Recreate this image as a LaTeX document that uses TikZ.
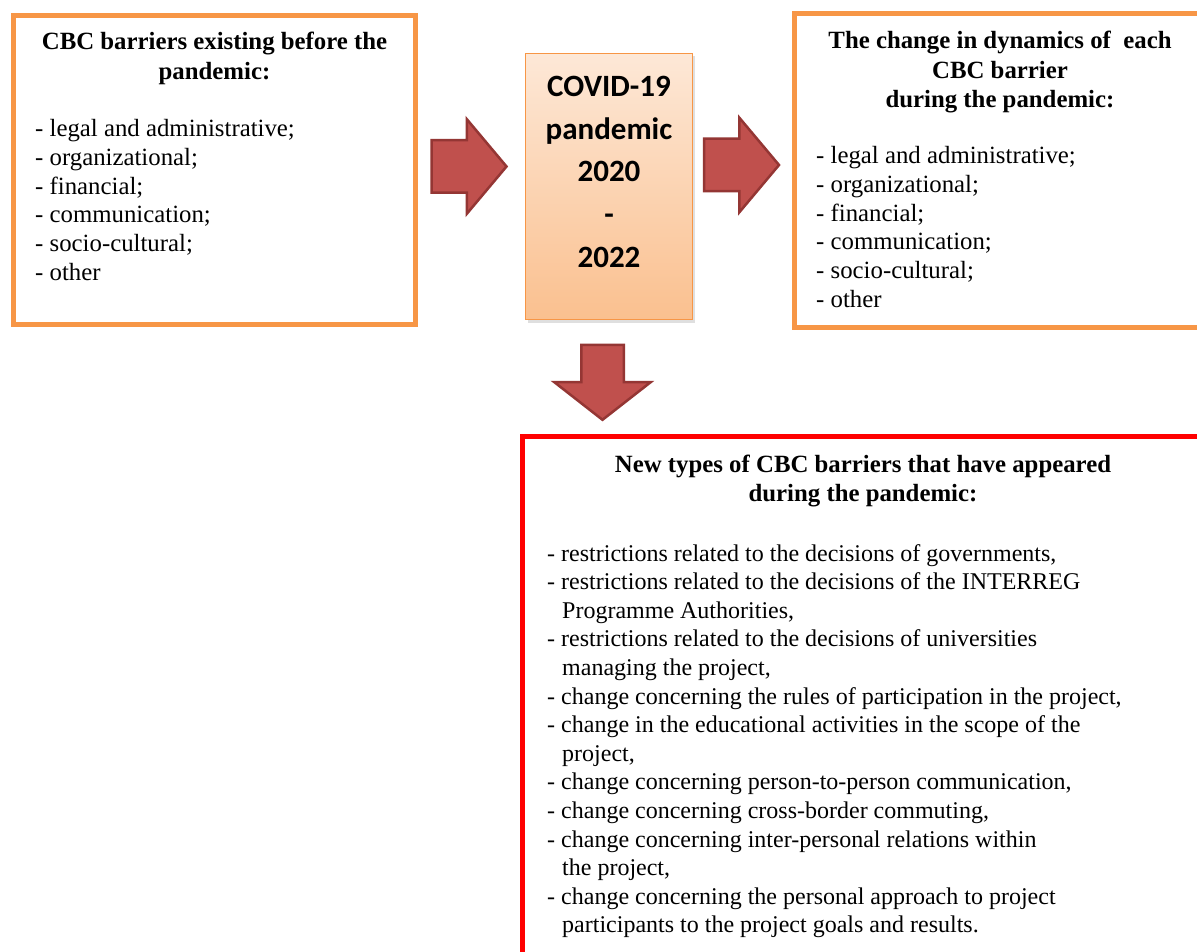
\documentclass[tikz,border=0pt]{standalone}
\usepackage{fontspec}
\setmainfont{Liberation Serif}
\newfontfamily\calibfont{Carlito}
\usetikzlibrary{positioning,shapes.arrows,shadows}
\definecolor{FrameClr}{HTML}{F79646}
\definecolor{NewClr}{HTML}{FF0000}
\definecolor{ArrowClr}{HTML}{C0504D}
\definecolor{ArrowLineClr}{HTML}{943634}
\definecolor{TopClr}{HTML}{FDE8D7}
\definecolor{BotClr}{HTML}{FAC08F}

\begin{document}
\begin{tikzpicture}[x=1pt,y=-1pt,
  barbox/.style={draw=FrameClr,line width=5pt,fill=white},
  newbox/.style={draw=NewClr,line width=5pt,fill=white},
  headtext/.style={font=\fontsize{24.8}{29.5}\selectfont\bfseries,align=center,inner sep=0pt},
  listtext/.style={font=\fontsize{24.8}{28.8}\selectfont,align=left,inner sep=0pt,anchor=north west},
  bigarrow/.style={single arrow,draw=ArrowLineClr,fill=ArrowClr,line width=2.5pt,
    minimum height=75pt,inner xsep=0pt,inner ysep=25pt,single arrow head extend=21pt,
    single arrow tip angle=100,single arrow head indent=0pt}]
\clip (0,0) rectangle (1197,952);
\fill[white] (0,0) rectangle (1197,952);

% boxes
\node[barbox,minimum width=402pt,minimum height=309pt] (before) at (214.5,170) {};
\node[barbox,minimum width=416pt,minimum height=313pt] (during) at (1002,170.5) {};
\node[newbox,minimum width=690pt,minimum height=540pt] (newtypes) at (867.5,706.5) {};
\node[draw=FrameClr,line width=1.2pt,top color=TopClr,bottom color=BotClr,
  minimum width=167pt,minimum height=266pt,
  drop shadow={shadow xshift=2pt,shadow yshift=-3pt,opacity=.25}] (covid) at (609,186.5) {};

% arrows
\node[bigarrow] (toCovid) at (458,166.5) {};
\node[bigarrow] (toDuring) at (730.5,165) {};
\node[bigarrow,shape border rotate=270,inner xsep=20pt,inner ysep=0pt,single arrow head extend=27pt,single arrow tip angle=104] (toNew) at (602.5,374) {};

% texts
\node[font=\calibfont\bfseries\fontsize{31}{42.7}\selectfont,align=center,inner sep=0pt,anchor=north]
  (covidtxt) at (609,76) {COVID-19\\pandemic\\2020\\-\\2022};

\node[headtext,anchor=north] (beforehead) at (214.5,32) {CBC barriers existing before the\\pandemic:};
\node[listtext] (beforelist) at (35,119) {- legal and administrative;\\- organizational;\\- financial;\\
  - communication;\\- socio-cultural;\\- other};

\node[headtext,anchor=north] (duringhead) at (1000,31) {The change in dynamics of \ each\\CBC barrier\\during the pandemic:};
\node[listtext] (duringlist) at (816,146) {- legal and administrative;\\- organizational;\\- financial;\\
  - communication;\\- socio-cultural;\\- other};

\node[headtext,anchor=north,font=\fontsize{24.8}{28.8}\selectfont\bfseries] (newhead) at (863,455)
  {New types of CBC barriers that have appeared\\during the pandemic:};
\node[listtext,font=\fontsize{24}{28.6}\selectfont] (newlist) at (547,544) {- restrictions related to the decisions of governments,\\
  - restrictions related to the decisions of the INTERREG\\
  \hspace*{15pt}Programme Authorities,\\
  - restrictions related to the decisions of universities\\
  \hspace*{15pt}managing the project,\\
  - change concerning the rules of participation in the project,\\
  - change in the educational activities in the scope of the\\
  \hspace*{15pt}project,\\
  - change concerning person-to-person communication,\\
  - change concerning cross-border commuting,\\
  - change concerning inter-personal relations within\\
  \hspace*{15pt}the project,\\
  - change concerning the personal approach to project\\
  \hspace*{15pt}participants to the project goals and results.};
\end{tikzpicture}
\end{document}
